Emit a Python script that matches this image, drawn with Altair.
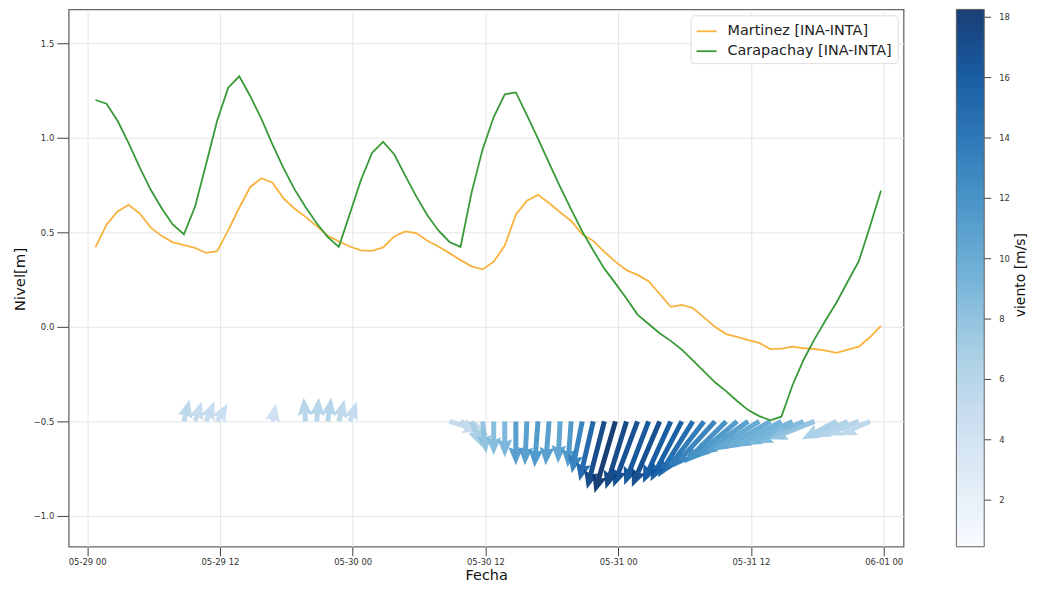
import math
import altair as alt
import pandas as pd

# ---------------- data ----------------
T0 = "2021-05-29 00:45"          # first hourly sample
SERIES = ["Martinez [INA-INTA]", "Carapachay [INA-INTA]"]
CBAR_TITLE = ["viento [m/s]"]

martinez = [0.42, 0.54, 0.61, 0.646, 0.60, 0.525, 0.48, 0.447, 0.432, 0.418,
            0.391, 0.40, 0.51, 0.63, 0.74, 0.786, 0.762, 0.68, 0.625, 0.582,
            0.533, 0.482, 0.452, 0.425, 0.405, 0.402, 0.42, 0.478, 0.505, 0.496,
            0.455, 0.425, 0.39, 0.353, 0.32, 0.304, 0.345, 0.43, 0.593, 0.667,
            0.698, 0.655, 0.606, 0.56, 0.49, 0.455, 0.397, 0.345, 0.30, 0.275,
            0.242, 0.175, 0.106, 0.116, 0.10, 0.05, 0.0, -0.038, -0.053, -0.07,
            -0.085, -0.117, -0.115, -0.105, -0.113, -0.117, -0.125, -0.137, -0.12, -0.105,
            -0.055, 0.005]

carapachay = [1.20, 1.18, 1.09, 0.972, 0.843, 0.725, 0.626, 0.54, 0.49, 0.635,
              0.86, 1.09, 1.265, 1.325, 1.22, 1.10, 0.965, 0.84, 0.727, 0.633,
              0.548, 0.475, 0.423, 0.60, 0.777, 0.92, 0.979, 0.913, 0.80, 0.69,
              0.59, 0.51, 0.449, 0.423, 0.71, 0.94, 1.11, 1.23, 1.24, 1.12,
              0.995, 0.868, 0.741, 0.621, 0.505, 0.404, 0.308, 0.23, 0.15, 0.065,
              0.015, -0.034, -0.074, -0.12, -0.177, -0.235, -0.293, -0.34, -0.392, -0.44,
              -0.472, -0.494, -0.475, -0.31, -0.175, -0.065, 0.035, 0.13, 0.24, 0.347,
              0.53, 0.72]

# wind components (m/s), None = no data
N = None
wind_u = [N, N, N, N, N, N, N, N, 0.8, 1.0,
          1.2, 1.5, N, N, N, N, 0.5, N, N, -0.3,
          0.3, 0.5, 0.8, 1.0, N, N, N, N, N, N,
          N, N, 4.5, 4.0, 1.5, 0.5, 0.0, 0.0, 0.0, -0.3,
          -0.5, -0.5, -0.3, -0.5, -1.5, -2.0, -2.5, -3.0, -3.0, -3.5,
          -3.5, -4.0, -4.0, -4.5, -5.0, -5.5, -6.0, -6.0, -6.5, -7.0,
          -7.0, -7.0, -7.0, -7.0, -7.0, -6.5, N, -5.0, -5.0, -5.0,
          -4.5, N]
wind_v = [N, N, N, N, N, N, N, N, 5.5, 5.0,
          5.0, 4.5, N, N, N, N, 4.5, N, N, 6.0,
          6.0, 6.0, 5.5, 5.0, N, N, N, N, N, N,
          N, N, -2.5, -3.5, -6.5, -8.0, -8.5, -9.0, -11.0, -11.0,
          -11.5, -11.0, -10.5, -11.5, -13.0, -15.0, -17.0, -18.0, -17.0, -16.5,
          -16.0, -16.5, -15.5, -15.0, -14.0, -12.5, -11.5, -10.5, -9.5, -8.5,
          -7.5, -7.0, -6.5, -6.0, -5.5, -4.5, N, -4.5, -4.0, -3.5,
          -3.5, N]

y_ticks = [-1.0, -0.5, 0.0, 0.5, 1.0, 1.5]
cbar_ticks = [2, 4, 6, 8, 10, 12, 14, 16, 18]
x_tick_days = [(5, 29, 0), (5, 29, 12), (5, 30, 0), (5, 30, 12),
               (5, 31, 0), (5, 31, 12), (6, 1, 0)]
BLUES = ["#f7fbff", "#deebf7", "#c6dbef", "#9ecae1", "#6baed6",
         "#4292c6", "#2171b5", "#08519c", "#08306b"]

# ---------------- layout / scales ----------------
W, H = 839, 540
Y0, Y1 = -1.163, 1.679
CB0, CB1 = 0.455, 18.26
CB_X, CB_W = 892, 28
QU, QV = 7.0, 4.0      # quiver scale: px per m/s (horizontal, vertical)
HEAD_L, HEAD_W, SHAFT_W = 18.0, 15.0, 5.0   # arrow geometry, px
S = 40.0               # px per unit of the symbol path
BASE = -0.5            # quiver baseline level

times = pd.date_range(T0, periods=len(martinez), freq="h")

lines = pd.DataFrame({
    "t": list(times) * 2,
    "nivel": martinez + carapachay,
    "serie": [SERIES[0]] * len(martinez) + [SERIES[1]] * len(carapachay),
})


def arrow_path(L):
    k = min(1.0, L / HEAD_L)
    sw, hw, hl = SHAFT_W * k, HEAD_W * k, HEAD_L * k
    pts = [(-sw / 2, 0), (-sw / 2, -(L - 0.9 * hl)), (-hw / 2, -(L - hl)), (0, -L),
           (hw / 2, -(L - hl)), (sw / 2, -(L - 0.9 * hl)), (sw / 2, 0)]
    return "M" + "L".join(f"{x / S:.4f},{y / S:.4f}" for x, y in pts) + "Z"


arrows = []
for t, u, v in zip(times, wind_u, wind_v):
    if u is None or v is None:
        continue
    dx, dy = QU * u, QV * v
    L = math.hypot(dx, dy)
    arrows.append({"t": t, "nivel": BASE, "spd": math.hypot(u, v),
                   "ang": math.degrees(math.atan2(dx, dy)) % 360,
                   "path": arrow_path(L)})
arrows = pd.DataFrame(arrows)

FONT = "DejaVu Sans"


def dt(m, d, h, mi=0):
    return alt.DateTime(year=2021, month=m, date=d, hours=h, minutes=mi)


x_enc = alt.X(
    "t:T",
    scale=alt.Scale(domain=[dt(5, 28, 22, 20), dt(6, 1, 1, 48)], nice=False),
    axis=alt.Axis(values=[dt(m, d, h) for m, d, h in x_tick_days],
                  format="%m-%d %H", title="Fecha", labelFontSize=8.5,
                  tickSize=9, labelPadding=2, labelFlush=False,
                  labelOverlap=False, titleFontSize=14.5, titleY=29,
                  titleBaseline="middle", titleColor="#111"),
)
y_scale = alt.Scale(domain=[Y0, Y1], nice=False, zero=False)
y_enc = alt.Y(
    "nivel:Q", scale=y_scale,
    axis=alt.Axis(values=y_ticks, format=".1f", title="Nivel[m]", labelFontSize=8.5,
                  tickSize=12, labelPadding=3, titleFontSize=15, titleX=-49,
                  titleY=271, titleAngle=270, titleAlign="center",
                  titleBaseline="middle", titleColor="#111"),
)

stops = [CB0 + k * (CB1 - CB0) / 8 for k in range(9)]
fill_enc = alt.Fill(
    "spd:Q",
    scale=alt.Scale(domain=stops, range=BLUES, interpolate="rgb"),
    legend=alt.Legend(type="gradient", title=None, orient="none", legendX=CB_X, legendY=0,
                      direction="vertical", gradientLength=H, gradientThickness=CB_W,
                      gradientStrokeColor="#555", gradientStrokeWidth=1,
                      values=cbar_ticks, labelFontSize=8.5, labelOffset=15,
                      labelOverlap=False, labelColor="#333", padding=0),
)

arrow_layer = alt.Chart(arrows).mark_point(
    filled=True, opacity=0.93, strokeWidth=0, size=(2 * S) ** 2).encode(
    x=x_enc, y=y_enc, fill=fill_enc,
    shape=alt.Shape("path:N", scale=None),
    angle=alt.Angle("ang:Q", scale=None),
    order=alt.Order("t:T"))

line_layer = alt.Chart(lines).mark_line(strokeWidth=1.8).encode(
    x="t:T", y=alt.Y("nivel:Q", scale=y_scale),
    stroke=alt.Stroke("serie:N", sort=SERIES,
                      scale=alt.Scale(domain=SERIES, range=["#f8b23e", "#379a37"]),
                      legend=alt.Legend(title=None, orient="top-right", offset=6,
                                        fillColor="white", strokeColor="#dddddd",
                                        cornerRadius=3, padding=5, labelFontSize=14.5,
                                        labelLimit=400, labelColor="#222",
                                        symbolType="stroke", symbolSize=400,
                                        symbolStrokeWidth=1.8, rowPadding=2,
                                        labelOffset=10)),
    detail="serie:N",
)

main = alt.layer(arrow_layer, line_layer)

cbar_ticks_layer = alt.Chart(pd.DataFrame({"v": cbar_ticks})).mark_rule(
    color="#444", strokeWidth=1).encode(
    y=alt.Y("v:Q", scale=alt.Scale(domain=[CB0, CB1], nice=False, zero=False), axis=None),
    x=alt.value(CB_X + CB_W), x2=alt.value(CB_X + CB_W + 7))

cbar_title = alt.Chart(pd.DataFrame({"lab": CBAR_TITLE})).mark_text(
    angle=270, fontSize=14, font=FONT, color="#111", baseline="middle", align="center").encode(
    text="lab:N", x=alt.value(CB_X + 65), y=alt.value(H / 2 - 3))

chart = alt.layer(main, cbar_ticks_layer, cbar_title).resolve_scale(y="independent").properties(
    width=W, height=H,
    padding={"left": 61, "top": 0, "right": 126, "bottom": 38},
    autosize=alt.AutoSizeParams(type="none"),
).configure_view(stroke="#666", strokeWidth=1.3).configure_axis(
    grid=True, gridColor="#e6e6e6", gridWidth=1, domain=False, tickColor="#444",
    labelColor="#333", labelFont=FONT, titleFont=FONT, titleFontWeight="normal",
).configure_legend(labelFont=FONT, titleFont=FONT)

chart.save("out.html", embed_options={"renderer": "svg", "actions": False})
